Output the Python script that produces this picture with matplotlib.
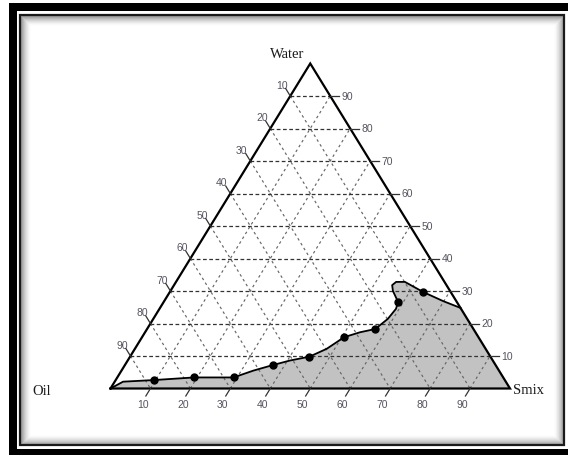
import matplotlib
matplotlib.use("Agg")
import matplotlib.pyplot as plt
from matplotlib.patches import Rectangle, Polygon

# Titration end points on the phase boundary (% w/w), Oil:Smix = 1:9 ... 9:1
oil_pts = [87.8, 77.4, 67.5, 55.8, 45.3, 33.6, 24.6, 14.7, 6.9]
water_pts = [2.6, 3.4, 3.4, 7.2, 9.8, 15.8, 18.3, 26.6, 29.7]
smix_pts = [9.6, 19.2, 29.1, 37.0, 44.9, 50.6, 57.1, 58.7, 63.4]

# Outline of the microemulsion region (from the Oil corner to the Water-Smix edge)
bnd_oil = [100, 95.8, 87.8, 77.4, 67.5, 61.5, 55.8, 50.8, 45.3, 39.8, 33.6, 28.9,
           24.6, 19.9, 16.3, 14.7, 14.3, 13.6, 12.1, 9.9, 6.9, 3.3, 0]
bnd_water = [0, 2.1, 2.6, 3.4, 3.4, 5.5, 7.2, 8.6, 9.8, 12.2, 15.8, 17.3,
             18.3, 21.4, 24.5, 26.6, 30.0, 31.8, 32.8, 32.8, 29.7, 26.9, 24.8]
bnd_smix = [0, 2.1, 9.6, 19.2, 29.1, 33.0, 37.0, 40.6, 44.9, 48.0, 50.6, 53.8,
            57.1, 58.7, 59.2, 58.7, 55.7, 54.6, 55.1, 57.3, 63.4, 69.8, 75.2]

tick_values = [10, 20, 30, 40, 50, 60, 70, 80, 90]
corner_labels = ["Water", "Oil", "Smix"]

W, H = 568, 456
fig = plt.figure(figsize=(W / 100, H / 100), dpi=100)

# ---- picture frame (pixel coordinates) ----
bg = fig.add_axes([0, 0, 1, 1])
bg.set_xlim(0, W)
bg.set_ylim(H, 0)
bg.axis("off")
bg.add_patch(Rectangle((9, 4), 700, 500, facecolor="black", edgecolor="none"))
bg.add_patch(Rectangle((17, 12), 700, 438, facecolor="white", edgecolor="none"))
for i in range(1, 11):
    a = 0.45 * (1 - i / 11) ** 1.7
    bg.add_patch(Rectangle((20 + i, 16 + i), 544 - 2 * i, 430 - 2 * i,
                           facecolor="none", edgecolor=(0, 0, 0, a), lw=0.75))
bg.add_patch(Rectangle((20, 16), 544, 430, facecolor="none",
                       edgecolor="#1a1a1a", lw=1.6))

# ---- ternary axes: x = smix + water/2, y = water ----
left_px, right_px, base_px, apex_px = 110.5, 510.0, 389.5, 64.5
sx = (right_px - left_px) / 100.0
sy = (base_px - apex_px) / 100.0
ax = fig.add_axes([0, 0, 1, 1])
ax.set_xlim(-left_px / sx, (W - left_px) / sx)
ax.set_ylim(-(H - base_px) / sy, base_px / sy)
ax.set_facecolor("none")
ax.axis("off")


def tern(o, w, s):
    if isinstance(o, (list, tuple)):
        return [si + wi / 2.0 for si, wi in zip(s, w)], list(w)
    return s + w / 2.0, w


# region fill and boundary curve
bx, by = tern(bnd_oil, bnd_water, bnd_smix)
cx, cy = tern(0, 0, 100)
ax.add_patch(Polygon(list(zip(bx + [cx], by + [cy])), closed=True,
                     facecolor="#c2c2c2", edgecolor="none", zorder=1))
ax.plot(bx, by, color="black", lw=1.3, zorder=4)

# grid lines
for k in tick_values:
    # constant water
    p = tern(100 - k, k, 0)
    q = tern(0, k, 100 - k)
    ax.plot([p[0], q[0]], [p[1], q[1]], color="#333333", lw=0.9,
            dashes=(3, 2), zorder=2)
    # constant oil
    p = tern(k, 100 - k, 0)
    q = tern(k, 0, 100 - k)
    ax.plot([p[0], q[0]], [p[1], q[1]], color="#666666", lw=0.85,
            dashes=(2.2, 2.6), zorder=2)
    # constant smix
    p = tern(100 - k, 0, k)
    q = tern(0, 100 - k, k)
    ax.plot([p[0], q[0]], [p[1], q[1]], color="#666666", lw=0.85,
            dashes=(2.2, 2.6), zorder=2)

# triangle outline
corners = [tern(100, 0, 0), tern(0, 100, 0), tern(0, 0, 100), tern(100, 0, 0)]
ax.plot([c[0] for c in corners], [c[1] for c in corners], color="black",
        lw=1.6, solid_joinstyle="miter", zorder=5)

# ticks and tick labels
tl = 2.3
lab_font = dict(family=["Liberation Sans", "DejaVu Sans"], fontsize=7.5,
                color="#55535e")
for k in tick_values:
    # bottom axis: Smix
    p = tern(100 - k, 0, k)
    q = tern(100 - k + tl, -tl, k)
    ax.plot([p[0], q[0]], [p[1], q[1]], color="#333333", lw=0.9, zorder=5)
    ax.annotate(str(k), p, xytext=(-7.5, -15.5), textcoords="offset pixels",
                ha="center", va="center", **lab_font)
    # right axis: Water
    p = tern(0, k, 100 - k)
    q = tern(-tl, k, 100 - k + tl)
    ax.plot([p[0], q[0]], [p[1], q[1]], color="#333333", lw=0.9, zorder=5)
    ax.annotate(str(k), p, xytext=(17, 0), textcoords="offset pixels",
                ha="center", va="center", **lab_font)
    # left axis: Oil
    p = tern(k, 100 - k, 0)
    q = tern(k, 100 - k + tl, -tl)
    ax.plot([p[0], q[0]], [p[1], q[1]], color="#333333", lw=0.9, zorder=5)
    ax.annotate(str(k), p, xytext=(-8.5, 11), textcoords="offset pixels",
                ha="center", va="center", **lab_font)

# titration points
px, py = tern(oil_pts, water_pts, smix_pts)
ax.plot(px, py, "o", color="black", ms=5, zorder=6)

# corner labels
corner_font = dict(family=["Liberation Serif", "DejaVu Serif"], fontsize=10.5,
                   color="#1a1a1a")
ax.annotate(corner_labels[0], tern(0, 100, 0), xytext=(-23, 9.5),
            textcoords="offset pixels", ha="center", va="center", **corner_font)
ax.annotate(corner_labels[1], tern(100, 0, 0), xytext=(-68.5, -2),
            textcoords="offset pixels", ha="center", va="center", **corner_font)
ax.annotate(corner_labels[2], tern(0, 0, 100), xytext=(3, -1.5),
            textcoords="offset pixels", ha="left", va="center", **corner_font)

fig.savefig("out.png", dpi=100)
